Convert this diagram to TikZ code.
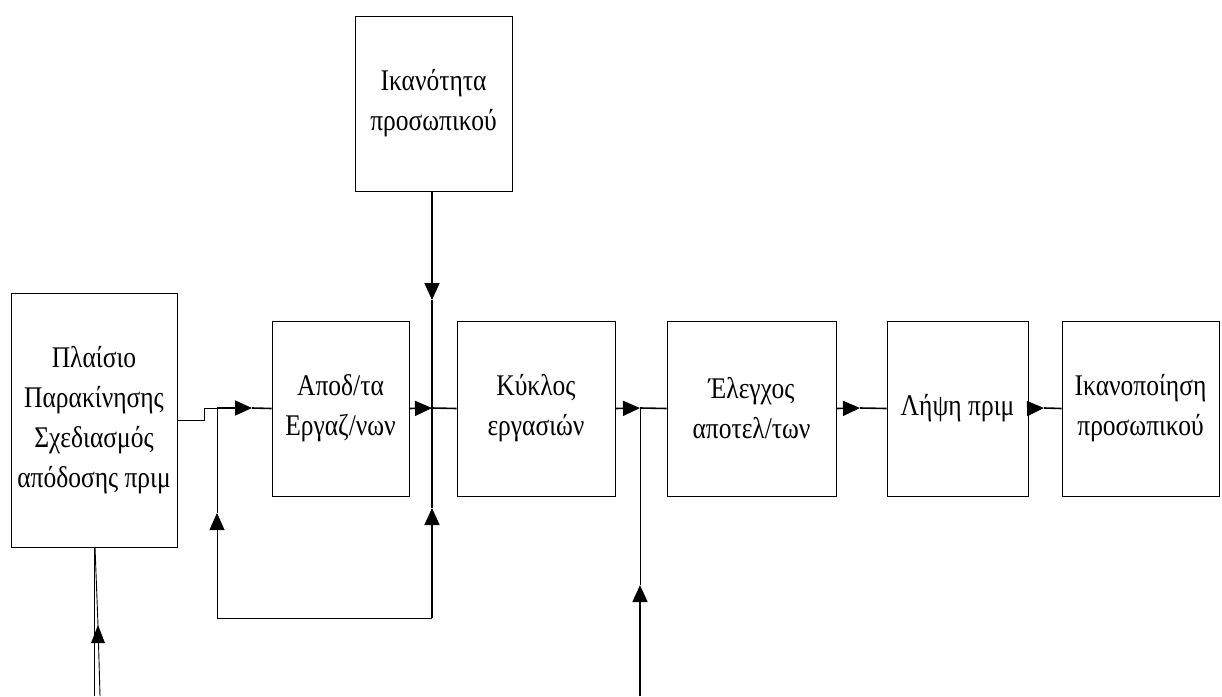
\documentclass[tikz,border=0pt]{standalone}
\usepackage{fontspec}
\setmainfont{Liberation Serif}[FakeStretch=0.85]
\usetikzlibrary{arrows.meta}
\tikzset{
  blk/.style={draw=black, line width=0.9pt, fill=white, minimum width=#1, inner sep=0pt, align=center,
              font=\fontsize{30}{40}\selectfont},
  conn/.style={draw=black, line width=1.6pt},
  thin/.style={draw=black, line width=0.9pt},
  tip/.style={-{Triangle[length=17pt,width=15pt]}},
}
\begin{document}
\begin{tikzpicture}[x=1pt,y=-1pt]
\useasboundingbox[fill=white] (0,0) rectangle (1222,696);

% boxes
\node[blk=166pt, minimum height=254pt] (frame) at (94,420) {Πλαίσιο\\Παρακίνησης\\Σχεδιασμός\\απόδοσης πριμ};
\node[blk=157pt, minimum height=175pt] (skill) at (433.5,103.5) {Ικανότητα\\προσωπικού};
\node[blk=137pt, minimum height=175pt] (perf) at (340.5,408.5) {Αποδ/τα\\Εργαζ/νων};
\node[blk=158pt, minimum height=175pt] (cycle) at (536,408.5) {Κύκλος\\εργασιών};
\node[blk=169pt, minimum height=175pt] (check) at (751.5,408.5) {Έλεγχος\\αποτελ/των};
\node[blk=141pt, minimum height=175pt] (prim) at (957.5,408.5) {Λήψη πριμ};
\node[blk=157pt, minimum height=175pt] (satis) at (1140.5,408.5) {Ικανοποίηση\\προσωπικού};

% coordinates
\coordinate (stepA) at (204,420);
\coordinate (stepB) at (204,408);
\coordinate (tPerf) at (252,408);
\coordinate (jTop) at (432,408);
\coordinate (tSkill) at (432,300);
\coordinate (tCheck) at (640,408);
\coordinate (bCheck) at (640,696);
\coordinate (tUp2) at (640,585);
\coordinate (tPrim) at (860,408);
\coordinate (tSatis) at (1044,408);
\coordinate (loopL) at (217,618);
\coordinate (loopR) at (432,618);
\coordinate (loopLT) at (217,408);
\coordinate (tLoopL) at (217,513);
\coordinate (tLoopR) at (432,508);
\coordinate (fb1) at (94,696);
\coordinate (fb2) at (100,696);
\coordinate (fbTop) at (95,547);
\coordinate (tFb) at (98,625);

% frame -> perf
\draw[thin] (frame.east |- stepA) -- (stepA) -- (stepB) -- (loopLT);
\draw[conn, tip] (loopLT) -- (tPerf);
\draw[conn] (tPerf) -- (perf.west);

% skill -> junction
\draw[conn, tip] (skill.south -| jTop) -- (tSkill);
\draw[conn] (tSkill) -- (jTop);

% perf -> cycle
\draw[conn, tip] (perf.east) -- (jTop);
\draw[conn] (jTop) -- (cycle.west);

% cycle -> check
\draw[conn, tip] (cycle.east) -- (tCheck);
\draw[conn] (tCheck) -- (check.west);
\draw[conn, tip] (bCheck) -- (tUp2);
\draw[thin] (tUp2) -- (tCheck);

% check -> prim -> satis
\draw[conn, tip] (check.east) -- (tPrim);
\draw[conn] (tPrim) -- (prim.west);
\draw[conn, tip] (prim.east) -- (tSatis);
\draw[conn] (tSatis) -- (satis.west);

% feedback loop
\draw[thin] (loopL) -- (loopR);
\draw[conn, tip] (loopR) -- (tLoopR);
\draw[conn] (tLoopR) -- (jTop);
\draw[thin, tip] (loopL) -- (tLoopL);
\draw[thin] (tLoopL) -- (loopLT);

% bottom input of frame
\draw[thin] (frame.south -| fb1) -- (fb1);
\draw[thin] (fb2) -- (tFb) -- (fbTop);
\fill[black] (tFb) -- ++(-7,18) -- ++(14,0) -- cycle;
\end{tikzpicture}
\end{document}
